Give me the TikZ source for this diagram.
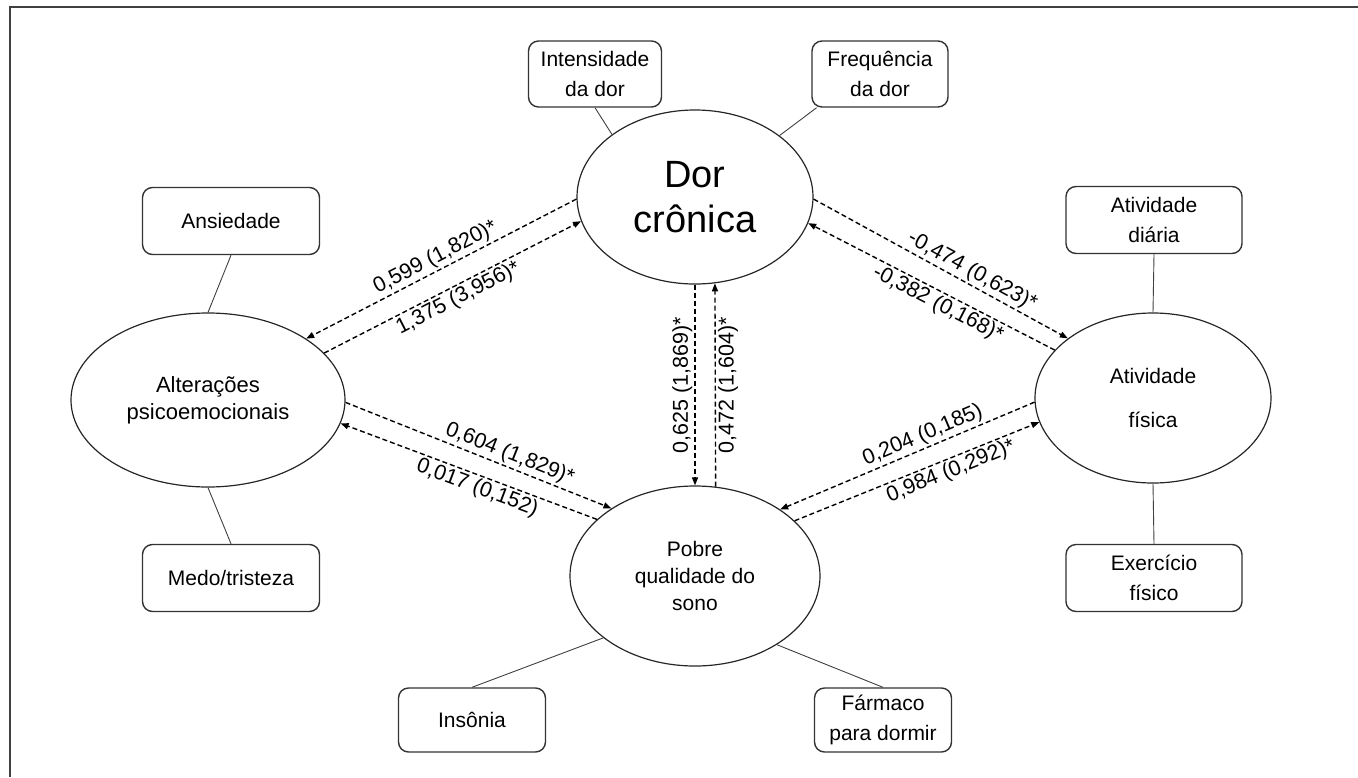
\documentclass[tikz,border=0pt]{standalone}
\usepackage{fontspec}
\setmainfont{Liberation Sans}
\usetikzlibrary{arrows.meta,shapes.geometric}
\begin{document}
\begin{tikzpicture}[x=1pt,y=-1pt,
  ell/.style={draw=black!85, ellipse, line width=1.2pt, inner sep=0pt, align=center, font=\fontsize{21}{27}\selectfont},
  box/.style={draw=black!80, rounded corners=10pt, line width=1.4pt, align=center, inner sep=0pt, font=\fontsize{21}{30}\selectfont},
  link/.style={draw=black!75, line width=0.9pt},
  dar/.style={dash pattern=on 5pt off 3pt, line width=1.4pt, -{Triangle[length=8pt,width=6pt]}},
  lab/.style={font=\fontsize{21.5}{25}\selectfont, sloped, inner sep=2pt},
  vlab/.style={font=\fontsize{21.5}{25}\selectfont, rotate=90, inner sep=2pt}
]
\useasboundingbox (0,0) rectangle (1358,777);
\draw[line width=2pt, black!75] (10,777) -- (10,7) -- (1358,7);

% ellipses
\node[ell, minimum width=236pt, minimum height=174pt, font=\fontsize{38}{45}\selectfont] (dor) at (695,197) {Dor\\crônica};
\node[ell, minimum width=274pt, minimum height=174pt, font=\fontsize{22}{27}\selectfont] (alt) at (208,400) {Alterações\\psicoemocionais};
\node[ell, minimum width=236pt, minimum height=170pt, font=\fontsize{21}{44}\selectfont] (ativ) at (1153,398) {Atividade\\física};
\node[ell, minimum width=250pt, minimum height=180pt] (sono) at (695,576) {Pobre\\qualidade do\\sono};

% boxes
\node[box, minimum width=133pt, minimum height=66pt] (int) at (595,74) {Intensidade\\da dor};
\node[box, minimum width=136pt, minimum height=66pt] (freq) at (880,74) {Frequência\\da dor};
\node[box, minimum width=177pt, minimum height=67pt] (ans) at (231,221) {Ansiedade};
\node[box, minimum width=177pt, minimum height=67pt] (medo) at (231,578) {Medo/tristeza};
\node[box, minimum width=147pt, minimum height=64pt] (ins) at (472,720) {Insônia};
\node[box, minimum width=137pt, minimum height=64pt] (farm) at (883,720) {Fármaco\\para dormir};
\node[box, minimum width=176pt, minimum height=67pt] (diar) at (1154,220) {Atividade\\diária};
\node[box, minimum width=176pt, minimum height=67pt] (exer) at (1154,578) {Exercício\\físico};

% links
\draw[link] (int.south) -- (dor.143.2);
\draw[link] (freq.208) -- (dor.36.1);
\draw[link] (ans.south) -- (alt.north);
\draw[link] (medo.north) -- (alt.south);
\draw[link] (diar.south) -- (ativ.north);
\draw[link] (exer.north) -- (ativ.south);
\draw[link] (ins.north) -- (sono.214.8);
\draw[link] (farm.north) -- (sono.320);

% paths
\draw[dar] (dor.181) -- node[lab, above, pos=0.5] {0,599 (1,820)*} (alt.32.1);
\draw[dar] (alt.22.8) -- node[lab, below, pos=0.5] {1,375 (3,956)*} (dor.192);
\draw[dar] (dor.359) -- node[lab, above, pos=0.6] {-0,474 (0,623)*} (ativ.145.2);
\draw[dar] (ativ.154.4) -- node[lab, below, pos=0.45] {-0,382 (0,168)*} (dor.347.8);
\draw[dar] (dor.270) -- node[vlab, anchor=south] {0,625 (1,869)*} (sono.90);
\draw[dar] (sono.77.2) -- node[vlab, anchor=north] {0,472 (1,604)*} (dor.283.1);
\draw[dar] (alt.359.2) -- node[lab, above, pos=0.6] {0,604 (1,829)*} (sono.141.3);
\draw[dar] (sono.150.3) -- node[lab, below, pos=0.45] {0,017 (0,152)} (alt.350.2);
\draw[dar] (ativ.182.4) -- node[lab, above, pos=0.42] {0,204 (0,185)} (sono.38.7);
\draw[dar] (sono.29.7) -- node[lab, below, pos=0.62] {0,984 (0,292)*} (ativ.192);
\end{tikzpicture}
\end{document}
